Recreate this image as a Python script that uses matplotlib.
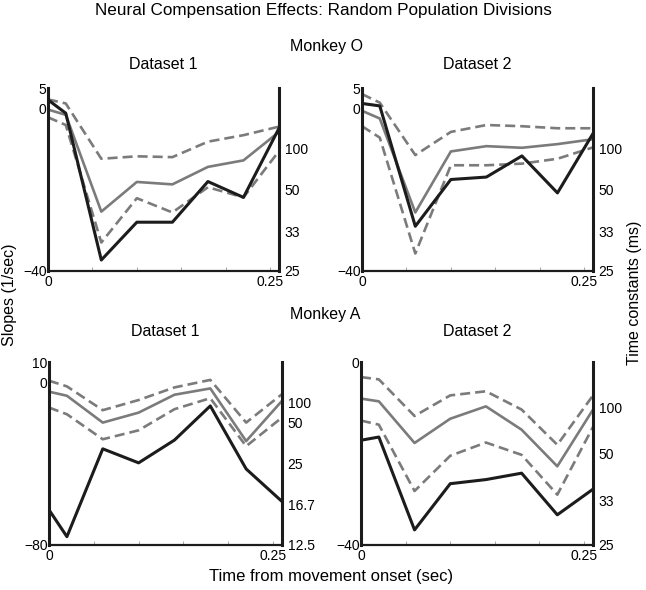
import matplotlib
matplotlib.use("Agg")
import matplotlib.pyplot as plt

plt.rcParams['font.family'] = ['Liberation Sans', 'DejaVu Sans']

# time points (sec)
t = [0, 0.02, 0.06, 0.10, 0.14, 0.18, 0.22, 0.26]

# Monkey O, Dataset 1 (slopes, 1/sec)
o1_black = [2.1, -1.2, -37.3, -28.0, -28.0, -18.0, -21.9, -4.9]
o1_mean = [-0.3, -1.6, -25.4, -18.1, -18.7, -14.4, -12.8, -5.8]
o1_upper = [2.2, 1.2, -12.4, -11.8, -12.0, -8.2, -6.6, -4.5]
o1_lower = [-2.2, -4.1, -33.0, -22.1, -25.6, -19.4, -21.9, -10.5]

# Monkey O, Dataset 2
o2_black = [1.2, 0.6, -29.0, -17.5, -16.9, -11.7, -20.8, -6.2]
o2_mean = [-0.6, -2.5, -25.6, -10.6, -9.3, -9.7, -8.8, -7.6]
o2_upper = [3.5, 1.4, -11.5, -5.8, -4.1, -4.4, -4.9, -4.9]
o2_lower = [-4.4, -7.2, -35.7, -14.0, -14.0, -13.6, -12.4, -9.6]

# Monkey A, Dataset 1
a1_black = [-62.7, -75.9, -32.7, -39.6, -28.4, -11.6, -42.6, -58.6]
a1_mean = [-4.6, -6.6, -19.8, -14.9, -6.1, -3.0, -28.9, -9.1]
a1_upper = [0.8, -2.0, -13.7, -8.7, -2.5, 1.2, -19.8, -5.8]
a1_lower = [-12.4, -15.7, -28.0, -23.6, -13.2, -7.8, -31.4, -17.3]

# Monkey A, Dataset 2
a2_black = [-17.1, -16.4, -36.7, -26.6, -25.7, -24.3, -33.4, -27.8]
a2_mean = [-8.0, -8.6, -17.7, -12.4, -9.7, -14.8, -22.8, -10.4]
a2_upper = [-3.3, -3.8, -11.8, -7.3, -6.4, -10.4, -18.1, -7.3]
a2_lower = [-12.8, -13.7, -28.2, -20.5, -17.6, -20.3, -29.0, -14.2]

# axis settings per panel
ylims = [(-40, 5), (-40, 5), (-80, 10), (-40, 0)]
left_ticks = [[5, 0, -40], [5, 0, -40], [10, 0, -80], [0, -40]]
tau_ticks = [[100, 50, 33, 25], [100, 50, 33, 25],
             [100, 50, 25, 16.7, 12.5], [100, 50, 33, 25]]
tau_labels = [['100', '50', '33', '25'], ['100', '50', '33', '25'],
              ['100', '50', '25', '16.7', '12.5'], ['100', '50', '33', '25']]

panels = [(o1_black, o1_mean, o1_upper, o1_lower),
          (o2_black, o2_mean, o2_upper, o2_lower),
          (a1_black, a1_mean, a1_upper, a1_lower),
          (a2_black, a2_mean, a2_upper, a2_lower)]
titles = ['Dataset 1', 'Dataset 2', 'Dataset 1', 'Dataset 2']

W, H = 646, 590
rects = [(48, 88, 231, 183), (362, 88, 231, 183),
         (49, 362, 233, 183), (361, 362, 232, 183)]
title_pads = [14, 14, 19, 19]

gray = '#7b7b7b'
dark = '#1c1c1c'

fig = plt.figure(figsize=(6.46, 5.90), dpi=100)

for i, (x0, y0, w, h) in enumerate(rects):
    ax = fig.add_axes([x0 / W, 1 - (y0 + h) / H, w / W, h / H])
    black, mean, upper, lower = panels[i]
    ax.plot(t, upper, color=gray, lw=1.9, dashes=(3.8, 1.9))
    ax.plot(t, lower, color=gray, lw=1.9, dashes=(3.8, 1.9))
    ax.plot(t, mean, color=gray, lw=1.9)
    ax.plot(t, black, color=dark, lw=2.2)
    ax.set_xlim(0, 0.26)
    ax.set_ylim(*ylims[i])
    ax.set_xticks([0, 0.05, 0.10, 0.15, 0.20, 0.25])
    ax.set_xticklabels(['0', '', '', '', '', '0.25'])
    ax.set_yticks(left_ticks[i])
    ax.set_yticklabels([str(v).replace('-', '\u2212') for v in left_ticks[i]])
    ax.tick_params(axis='x', direction='in', length=3, width=0.6, color='#999999',
                   labelsize=10, pad=3)
    ax.tick_params(axis='y', direction='in', length=0, labelsize=10, pad=1)
    ax.spines['top'].set_visible(False)
    ax.spines['left'].set_linewidth(2.2)
    ax.spines['right'].set_linewidth(2.2)
    ax.spines['bottom'].set_linewidth(1.6)
    for s in ax.spines.values():
        s.set_color(dark)
    ax.set_title(titles[i], fontsize=11.5, pad=title_pads[i])

    tw = ax.twinx()
    tw.set_ylim(*ylims[i])
    tw.set_yticks([-1000.0 / v for v in tau_ticks[i]])
    tw.set_yticklabels(tau_labels[i])
    tw.tick_params(axis='y', direction='in', length=0, labelsize=10, pad=4)
    for s in tw.spines.values():
        s.set_visible(False)

fig.text(0.5, 1 - 11 / H, 'Neural Compensation Effects: Random Population Divisions',
         ha='center', va='center', fontsize=12.3)
fig.text(327 / W, 1 - 47 / H, 'Monkey O', ha='center', va='center', fontsize=11.5)
fig.text(325 / W, 1 - 314 / H, 'Monkey A', ha='center', va='center', fontsize=11.5)
fig.text(331 / W, 1 - 577 / H, 'Time from movement onset (sec)', ha='center',
         va='center', fontsize=12)
fig.text(10 / W, 1 - 295 / H, 'Slopes (1/sec)', ha='center', va='center',
         rotation=90, fontsize=11.5)
fig.text(634 / W, 1 - 293 / H, 'Time constants (ms)', ha='center', va='center',
         rotation=90, fontsize=11.5)

fig.savefig('out.png', dpi=100)
